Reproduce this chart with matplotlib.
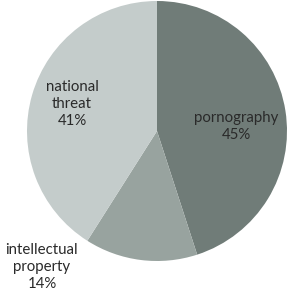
import matplotlib.pyplot as plt

# Slice data, clockwise from 12 o'clock
labels = ['pornography', 'intellectual\nproperty', 'national\nthreat']
shares = [45, 14, 41]
colors = ['#707c78', '#98a39f', '#c4cccb']

# label anchor points (data units, pie radius = 1)
label_pos = [(0.61, 0.035), (-0.885, -1.046), (-0.654, 0.208)]

plt.rcParams['font.family'] = ['Lato', 'DejaVu Sans']

fig = plt.figure(figsize=(2.87, 2.97), dpi=100)
fig.patch.set_facecolor('white')
ax = fig.add_axes([0, 0, 1, 1])

ax.pie(shares, colors=colors, startangle=90, counterclock=False,
       radius=1.0, center=(0, 0), wedgeprops=dict(linewidth=0))

for lab, val, (x, y) in zip(labels, shares, label_pos):
    ax.text(x, y, '%s\n%d%%' % (lab, val), ha='center', va='center',
            fontsize=10.8, color='#2a2a2a', linespacing=1.28)

ax.set_aspect('auto')
ax.set_xlim(-157 / 130, 130 / 130)
ax.set_ylim(-166 / 130, 131 / 130)
ax.axis('off')

fig.savefig('out.png', dpi=100, facecolor='white')
